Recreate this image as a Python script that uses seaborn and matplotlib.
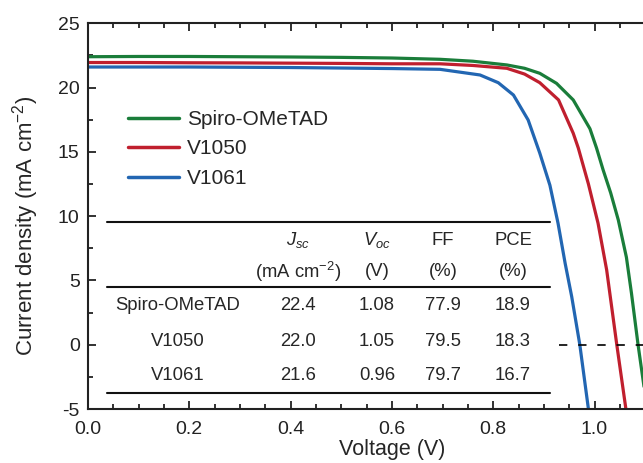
import numpy as np
import pandas as pd
import matplotlib
matplotlib.use('Agg')
import matplotlib.pyplot as plt
from matplotlib.lines import Line2D
from matplotlib.ticker import MultipleLocator
import seaborn as sns

sns.set_style("ticks")
plt.rcParams['font.family'] = ['Liberation Sans', 'DejaVu Sans']
plt.rcParams['mathtext.fontset'] = 'custom'
plt.rcParams['mathtext.rm'] = 'Liberation Sans'
plt.rcParams['mathtext.it'] = 'Liberation Sans:italic'
plt.rcParams['axes.unicode_minus'] = False

#%% DATA

v_spiro = [0.0, 0.1, 0.2, 0.3, 0.4, 0.5, 0.6, 0.695, 0.76, 0.827, 0.862, 0.892,
           0.925, 0.958, 0.991, 1.004, 1.017, 1.032, 1.047, 1.063, 1.073, 1.086, 1.104]
j_spiro = [22.40, 22.42, 22.42, 22.40, 22.38, 22.35, 22.30, 22.20, 22.05, 21.76, 21.50, 21.11,
           20.33, 19.04, 16.80, 15.30, 13.60, 11.80, 9.70, 6.80, 4.00, 0.0, -5.0]

v_v1050 = [0.0, 0.1, 0.2, 0.3, 0.4, 0.5, 0.6, 0.695, 0.76, 0.827, 0.862, 0.892,
           0.929, 0.958, 0.968, 0.988, 1.007, 1.024, 1.044, 1.062]
j_v1050 = [21.95, 21.95, 21.93, 21.92, 21.90, 21.88, 21.85, 21.85, 21.72, 21.50, 21.05, 20.38,
           19.04, 16.45, 15.30, 12.50, 9.45, 5.82, 0.0, -5.0]

v_v1061 = [0.0, 0.1, 0.2, 0.3, 0.4, 0.5, 0.6, 0.695, 0.774, 0.810, 0.840, 0.869,
           0.892, 0.912, 0.928, 0.942, 0.955, 0.971, 0.988]
j_v1061 = [21.60, 21.60, 21.60, 21.58, 21.56, 21.52, 21.48, 21.42, 20.98, 20.38, 19.42, 17.48,
           14.90, 12.40, 9.45, 6.34, 3.74, 0.0, -5.0]

devices = ['Spiro-OMeTAD', 'V1050', 'V1061']
colors = ['#1a7d3a', '#c01f2e', '#2266b2']

# table of photovoltaic parameters
tab_rows = ['Spiro-OMeTAD', 'V1050', 'V1061']
tab_jsc = ['22.4', '22.0', '21.6']
tab_voc = ['1.08', '1.05', '0.96']
tab_ff = ['77.9', '79.5', '79.7']
tab_pce = ['18.9', '18.3', '16.7']

xticks = [0.0, 0.2, 0.4, 0.6, 0.8, 1.0]
dash_start = 0.93  # where the J = 0 guide line begins

#%% BUILD LONG-FORM FRAME

frames = []
for name, v, j in zip(devices, [v_spiro, v_v1050, v_v1061], [j_spiro, j_v1050, j_v1061]):
    frames.append(pd.DataFrame({'V': v, 'J': j, 'device': name}))
df = pd.concat(frames, ignore_index=True)

#%% PLOT

W, H = 643, 463
fig = plt.figure(figsize=(W/100, H/100), dpi=100)
# axes runs past the right border (the original is cropped there)
ax = fig.add_axes([88/W, 1-409/H, 607.8/W, 385.7/H])

sns.lineplot(data=df, x='V', y='J', hue='device', palette=colors, sort=False,
             estimator=None, lw=2.3, ax=ax, legend=False)

ax.axhline(0, xmin=dash_start/1.2, xmax=1, color='k', lw=1.2, ls=(0, (5, 6.5)))

ax.set_xlim(0, 1.2)
ax.set_ylim(-5, 25)
ax.xaxis.set_minor_locator(MultipleLocator(0.05))
ax.yaxis.set_major_locator(MultipleLocator(5))
ax.yaxis.set_minor_locator(MultipleLocator(2.5))
ax.set_xticks(xticks)
ax.set_xticklabels(['%.1f' % t for t in xticks])
ax.tick_params(which='both', direction='in', top=True, right=False, colors='#222222',
               labelsize=14, width=1.3)
ax.tick_params(which='major', length=6)
ax.tick_params(which='minor', length=3.5)
ax.tick_params(axis='x', pad=9)
ax.tick_params(axis='y', pad=6)
for s in ['left', 'top', 'bottom']:
    ax.spines[s].set_linewidth(1.5)
    ax.spines[s].set_color('#222222')
ax.spines['right'].set_visible(False)

ax.set_xlabel('Voltage (V)', fontsize=15.5, labelpad=0)
ax.set_ylabel('Current density (mA cm$^{-2}$)', fontsize=16)
ax.yaxis.set_label_coords((41-88)/607.8, (409-226)/385.7)

handles = [Line2D([], [], color=c, lw=2.5) for c in colors]
fig.legend(handles, devices, loc='upper left', bbox_to_anchor=(128/W, 1-110/H),
           frameon=False, fontsize=15, handlelength=2.45, handletextpad=0.4,
           labelspacing=0.5, borderpad=0, borderaxespad=0)

#%% TABLE

def fx(px):
    return px / W

def fy(py):
    return 1 - py / H

for py in [221.7, 287.3, 392.7]:
    fig.add_artist(Line2D([fx(107), fx(550)], [fy(py), fy(py)], color='#111111', lw=1.5))

cols = [178, 298, 377, 443, 513]
tfs = 13.3
hdr1 = ['', '$J_{sc}$', '$V_{oc}$', 'FF', 'PCE']
hdr2 = ['', '(mA cm$^{-2}$)', '(V)', '(%)', '(%)']
for cx, h1, h2 in zip(cols, hdr1, hdr2):
    fig.text(fx(cx), fy(240), h1, ha='center', va='center', fontsize=tfs)
    fig.text(fx(cx), fy(272), h2, ha='center', va='center', fontsize=tfs)

for ry, row in zip([306, 341, 375], zip(tab_rows, tab_jsc, tab_voc, tab_ff, tab_pce)):
    for cx, val in zip(cols, row):
        fig.text(fx(cx), fy(ry), val, ha='center', va='center', fontsize=tfs)

fig.savefig('out.png', dpi=100)
